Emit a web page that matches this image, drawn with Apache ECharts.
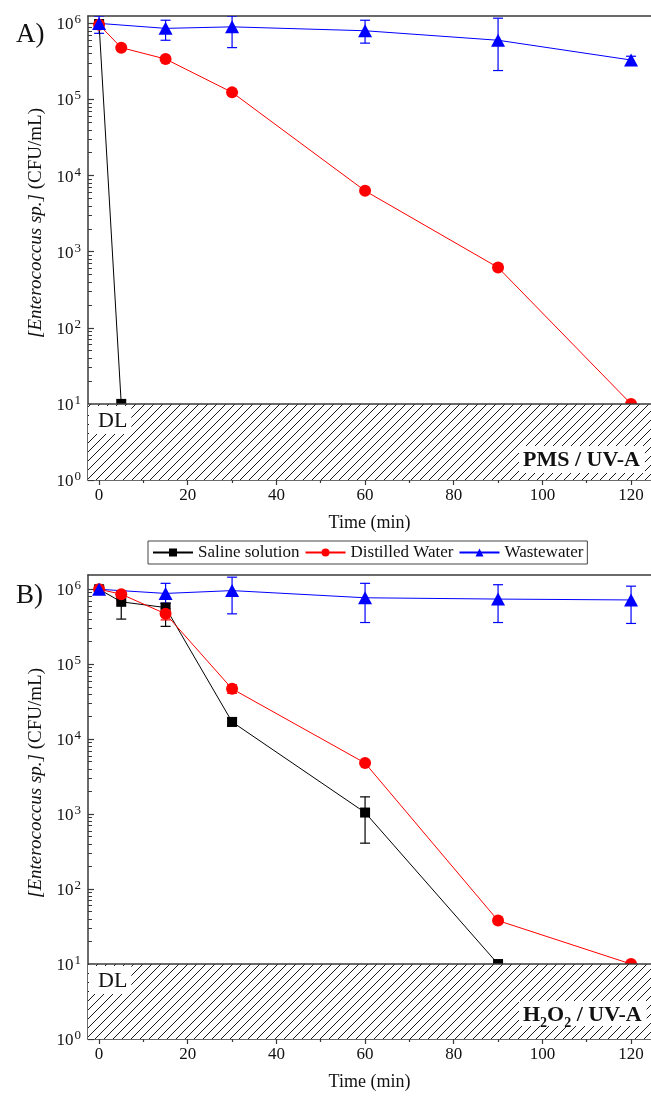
<!DOCTYPE html>
<html>
<head>
<meta charset="utf-8">
<script src="https://cdn.jsdelivr.net/npm/echarts@6/dist/echarts.min.js"></script>
<style>
  html, body { margin: 0; padding: 0; background: #fff; }
  #chart { width: 651px; height: 1102px; }
</style>
</head>
<body>
<div id="chart"></div>
<script>
// ---- Panel A: PMS / UV-A ----
const pmsSalineTime = [0, 5];
const pmsSaline = [9.8e5, 10];

const pmsDistilledTime = [0, 5, 15, 30, 60, 90, 120];
const pmsDistilled = [9.6e5, 4.8e5, 3.4e5, 1.24e5, 6.3e3, 620, 10];
const pmsDistilledLow = [8.6e5, 4.8e5, 3.4e5, 1.24e5, 6.3e3, 620, 10];
const pmsDistilledHigh = [1.08e6, 4.8e5, 3.4e5, 1.24e5, 6.3e3, 620, 10];

const pmsWasteTime = [0, 15, 30, 60, 90, 120];
const pmsWaste = [1.0e6, 8.6e5, 9.0e5, 8.0e5, 6.0e5, 3.3e5];
const pmsWasteLow = [7.4e5, 6.0e5, 4.8e5, 5.5e5, 2.4e5, 2.9e5];
const pmsWasteHigh = [1.25e6, 1.1e6, 1.25e6, 1.1e6, 1.17e6, 3.7e5];

// ---- Panel B: H2O2 / UV-A ----
const h2o2SalineTime = [0, 5, 15, 30, 60, 90];
const h2o2Saline = [1.0e6, 6.8e5, 5.7e5, 1.7e4, 1.05e3, 10];
const h2o2SalineLow = [8.8e5, 4.0e5, 3.2e5, 1.5e4, 4.1e2, 10];
const h2o2SalineHigh = [1.1e6, 8.6e5, 6.5e5, 1.9e4, 1.7e3, 10];

const h2o2DistilledTime = [0, 5, 15, 30, 60, 90, 120];
const h2o2Distilled = [1.0e6, 8.6e5, 4.7e5, 4.7e4, 4.8e3, 38, 10];
const h2o2DistilledLow = [9.0e5, 7.0e5, 3.9e5, 4.1e4, 4.8e3, 38, 10];
const h2o2DistilledHigh = [1.1e6, 9.5e5, 5.5e5, 5.3e4, 4.8e3, 38, 10];

const h2o2WasteTime = [0, 15, 30, 60, 90, 120];
const h2o2Waste = [1.0e6, 8.8e5, 9.6e5, 7.7e5, 7.4e5, 7.2e5];
const h2o2WasteLow = [9.0e5, 6.5e5, 4.7e5, 3.6e5, 3.6e5, 3.5e5];
const h2o2WasteHigh = [1.1e6, 1.2e6, 1.45e6, 1.2e6, 1.15e6, 1.1e6];

// detection limit (CFU/mL)
const detectionLimit = 10;

// ---- axis ticks ----
const xTickLabels = [0, 20, 40, 60, 80, 100, 120];
const xMinorTicks = [10, 30, 50, 70, 90, 110];
const yTickValues = [1, 10, 100, 1e3, 1e4, 1e5, 1e6];
const yMinorTicks = [];
for (let e = 0; e < 6; e++) for (let m = 2; m <= 9; m++) yMinorTicks.push(m * Math.pow(10, e));

const seriesNames = ['Saline solution', 'Distilled Water', 'Wastewater'];
const seriesColors = ['#000000', '#ff0000', '#0000ff'];

const FONT = '"Liberation Serif", "Times New Roman", serif';
const AXIS = '#3a3a3a';
const X_MIN = -2.5, X_MAX = 124.5;
const grids = [
  { left: 88, top: 16, width: 563, height: 464, yMax: 1.25e6 },
  { left: 88, top: 575, width: 563, height: 464, yMax: 1.55e6 }
];

function zip(xs, ys) { return xs.map((x, i) => [x, ys[i]]); }
function zip3(xs, lo, hi) { return xs.map((x, i) => [x, lo[i], hi[i]]); }

// diagonal hatch tile for the below-detection-limit band
function hatchTile() {
  const s = 9;
  const c = document.createElement('canvas');
  c.width = s; c.height = s;
  const g = c.getContext('2d');
  g.fillStyle = '#fff'; g.fillRect(0, 0, s, s);
  g.strokeStyle = '#1a1a1a'; g.lineWidth = 1;
  g.beginPath();
  g.moveTo(-1, s + 1); g.lineTo(s + 1, -1);
  g.moveTo(-1, 1); g.lineTo(1, -1);
  g.moveTo(s - 1, s + 1); g.lineTo(s + 1, s - 1);
  g.stroke();
  return c;
}
const hatch = { image: hatchTile(), repeat: 'repeat' };

const xAxes = [], yAxes = [];
grids.forEach((g, gi) => {
  xAxes.push({
    type: 'value', gridIndex: gi, min: X_MIN, max: X_MAX, position: 'bottom',
    name: 'Time (min)', nameLocation: 'middle', nameGap: 34,
    nameTextStyle: { fontFamily: FONT, fontSize: 18, color: '#111' },
    axisLine: { show: true, onZero: false, lineStyle: { color: AXIS, width: 1.5 } },
    axisTick: { show: true, inside: false, length: 5, customValues: xTickLabels, lineStyle: { color: AXIS, width: 1.2 } },
    axisLabel: { customValues: xTickLabels, fontFamily: FONT, fontSize: 17, color: '#111', margin: 7 },
    splitLine: { show: false }
  });
  xAxes.push({
    type: 'value', gridIndex: gi, min: X_MIN, max: X_MAX, position: 'bottom',
    axisLine: { show: false, onZero: false },
    axisTick: { show: true, inside: false, length: 3, customValues: xMinorTicks, lineStyle: { color: AXIS, width: 1.2 } },
    axisLabel: { show: false }, splitLine: { show: false }
  });
  xAxes.push({
    type: 'value', gridIndex: gi, min: X_MIN, max: X_MAX, position: 'top',
    axisLine: { show: true, onZero: false, lineStyle: { color: AXIS, width: 1.5 } },
    axisTick: { show: false }, axisLabel: { show: false }, splitLine: { show: false }
  });
  yAxes.push({
    type: 'log', logBase: 10, gridIndex: gi, min: 1, max: g.yMax, position: 'left',
    axisLine: { show: true, onZero: false, lineStyle: { color: AXIS, width: 1.5 } },
    axisTick: { show: true, inside: true, length: 6, customValues: yTickValues, lineStyle: { color: AXIS, width: 1.2 } },
    axisLabel: {
      customValues: yTickValues, margin: 7,
      formatter: v => '{b|10}{s|' + Math.round(Math.log10(v)) + '}',
      rich: {
        b: { fontFamily: FONT, fontSize: 17, color: '#111', lineHeight: 20, verticalAlign: 'bottom' },
        s: { fontFamily: FONT, fontSize: 13, color: '#111', verticalAlign: 'top', lineHeight: 13, padding: [0, 0, 0, 1] }
      }
    },
    splitLine: { show: false }
  });
  yAxes.push({
    type: 'log', logBase: 10, gridIndex: gi, min: 1, max: g.yMax, position: 'left',
    axisLine: { show: false, onZero: false },
    axisTick: { show: true, inside: true, length: 4, customValues: yMinorTicks, lineStyle: { color: AXIS, width: 1 } },
    axisLabel: { show: false }, splitLine: { show: false }
  });
});

function lineSeries(gi, k, data) {
  const symbols = ['rect', 'circle', 'triangle'];
  const sizes = [10, 12, [14, 13]];
  return {
    type: 'line', name: seriesNames[k], xAxisIndex: gi * 3, yAxisIndex: gi * 2,
    data, symbol: symbols[k], symbolSize: sizes[k], showAllSymbol: true,
    lineStyle: { color: seriesColors[k], width: 1 },
    itemStyle: { color: seriesColors[k] },
    z: 3, clip: true, animation: false
  };
}

function errorSeries(gi, k, data) {
  return {
    type: 'custom', xAxisIndex: gi * 3, yAxisIndex: gi * 2, data, clip: true, z: 2,
    silent: true, animation: false,
    renderItem: (params, api) => {
      const top = api.coord([api.value(0), api.value(2)]);
      const bot = api.coord([api.value(0), api.value(1)]);
      const hw = 5;
      const st = { stroke: seriesColors[k], lineWidth: 1.2 };
      return {
        type: 'group', children: [
          { type: 'line', shape: { x1: top[0], y1: top[1], x2: bot[0], y2: bot[1] }, style: st },
          { type: 'line', shape: { x1: top[0] - hw, y1: top[1], x2: top[0] + hw, y2: top[1] }, style: st },
          { type: 'line', shape: { x1: bot[0] - hw, y1: bot[1], x2: bot[0] + hw, y2: bot[1] }, style: st }
        ]
      };
    }
  };
}

function dlSeries(gi) {
  return {
    type: 'custom', xAxisIndex: gi * 3, yAxisIndex: gi * 2, data: [[X_MIN, detectionLimit]],
    z: 5, silent: true, animation: false, clip: true,
    renderItem: (params, api) => {
      const a = api.coord([X_MIN, detectionLimit]);
      const b = api.coord([X_MAX, 1]);
      return {
        type: 'group', children: [
          { type: 'rect', shape: { x: a[0], y: a[1], width: b[0] - a[0], height: b[1] - a[1] }, style: { fill: hatch, stroke: null } },
          { type: 'line', shape: { x1: a[0], y1: a[1], x2: b[0], y2: a[1] }, style: { stroke: AXIS, lineWidth: 1.5 } }
        ]
      };
    }
  };
}

const series = [
  errorSeries(0, 1, zip3(pmsDistilledTime, pmsDistilledLow, pmsDistilledHigh)),
  errorSeries(0, 2, zip3(pmsWasteTime, pmsWasteLow, pmsWasteHigh)),
  lineSeries(0, 0, zip(pmsSalineTime, pmsSaline)),
  lineSeries(0, 1, zip(pmsDistilledTime, pmsDistilled)),
  lineSeries(0, 2, zip(pmsWasteTime, pmsWaste)),
  dlSeries(0),
  errorSeries(1, 0, zip3(h2o2SalineTime, h2o2SalineLow, h2o2SalineHigh)),
  errorSeries(1, 1, zip3(h2o2DistilledTime, h2o2DistilledLow, h2o2DistilledHigh)),
  errorSeries(1, 2, zip3(h2o2WasteTime, h2o2WasteLow, h2o2WasteHigh)),
  lineSeries(1, 0, zip(h2o2SalineTime, h2o2Saline)),
  lineSeries(1, 1, zip(h2o2DistilledTime, h2o2Distilled)),
  lineSeries(1, 2, zip(h2o2WasteTime, h2o2Waste)),
  dlSeries(1)
];

function yTitle(cy) {
  return {
    type: 'text', x: 36, y: cy, rotation: Math.PI / 2, z: 100,
    style: {
      text: '{i|[Enterococcus sp.]} {n|(CFU/mL)}',
      rich: {
        i: { fontFamily: FONT, fontSize: 19, fontStyle: 'italic', fill: '#111' },
        n: { fontFamily: FONT, fontSize: 19, fill: '#111' }
      },
      fontFamily: FONT, fontSize: 19, align: 'center', verticalAlign: 'middle', fill: '#111'
    }
  };
}

function dlBox(top) {
  return {
    type: 'text', x: 89, y: top, z: 100,
    style: {
      text: 'DL', fontFamily: FONT, fontSize: 22, fill: '#111',
      backgroundColor: '#fff', padding: [4, 4, 2, 9]
    }
  };
}

const graphics = [
  { type: 'text', x: 16, y: 21, z: 100, style: { text: 'A)', fontFamily: FONT, fontSize: 27, fill: '#111' } },
  { type: 'text', x: 16, y: 582, z: 100, style: { text: 'B)', fontFamily: FONT, fontSize: 27, fill: '#111' } },
  yTitle(223),
  yTitle(783),
  dlBox(406),
  dlBox(966),
  {
    type: 'text', x: 519, y: 446, z: 100,
    style: {
      text: 'PMS / UV-A', fontFamily: FONT, fontSize: 22, fontWeight: 'bold', fill: '#111',
      backgroundColor: '#fff', padding: [3, 5, 2, 4]
    }
  },
  {
    type: 'text', x: 519, y: 1001, z: 100,
    style: {
      text: '{b|H}{u|2}{b|O}{u|2}{b| / UV-A}',
      rich: {
        b: { fontFamily: FONT, fontSize: 22, fontWeight: 'bold', fill: '#111', lineHeight: 22, verticalAlign: 'top' },
        u: { fontFamily: FONT, fontSize: 14, fontWeight: 'bold', fill: '#111', lineHeight: 14, verticalAlign: 'top', padding: [12, 0, 0, 0] }
      },
      backgroundColor: '#fff', padding: [3, 5, 0, 4]
    }
  }
];

const chart = echarts.init(document.getElementById('chart'), null, { renderer: 'canvas' });
chart.setOption({
  animation: false,
  backgroundColor: '#fff',
  textStyle: { fontFamily: FONT },
  grid: grids.map(g => ({ left: g.left, top: g.top, width: g.width, height: g.height, containLabel: false })),
  xAxis: xAxes,
  yAxis: yAxes,
  legend: {
    data: seriesNames, left: 148, top: 541,
    itemWidth: 40, itemHeight: 10, itemGap: 5,
    borderColor: '#444', borderWidth: 1, padding: [3, 4, 3, 4],
    textStyle: { fontFamily: FONT, fontSize: 17, color: '#111' },
    selectedMode: false
  },
  graphic: { elements: graphics },
  series
});
</script>
</body>
</html>
